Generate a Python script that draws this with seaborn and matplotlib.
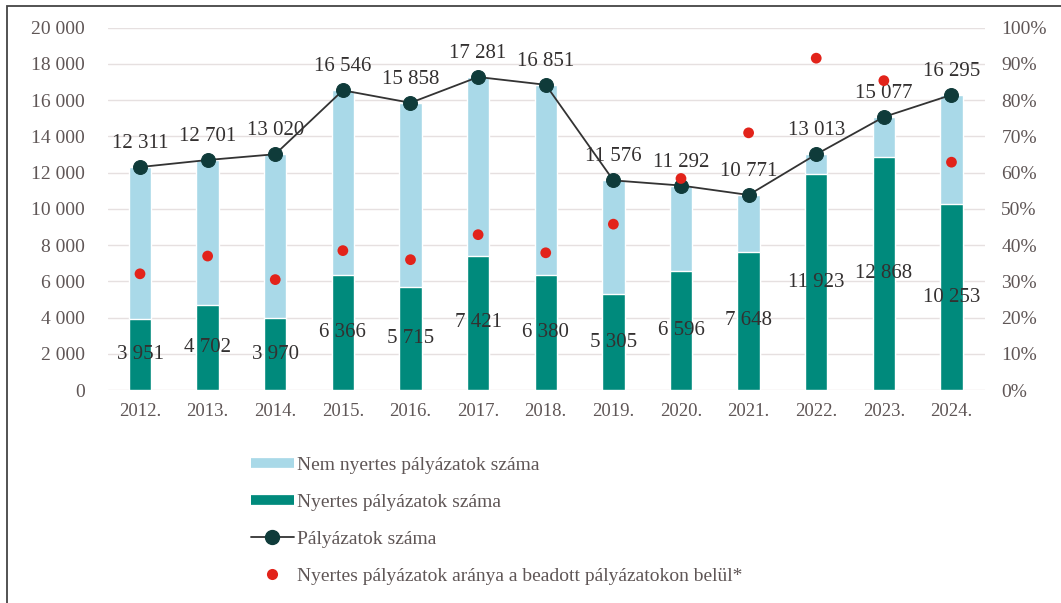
import matplotlib
matplotlib.use("Agg")
import matplotlib.pyplot as plt
import seaborn as sns
import pandas as pd
from matplotlib.lines import Line2D
from matplotlib.patches import Rectangle

years = ["2012.", "2013.", "2014.", "2015.", "2016.", "2017.", "2018.",
         "2019.", "2020.", "2021.", "2022.", "2023.", "2024."]
total = [12311, 12701, 13020, 16546, 15858, 17281, 16851,
         11576, 11292, 10771, 13013, 15077, 16295]
winners = [3951, 4702, 3970, 6366, 5715, 7421, 6380,
           5305, 6596, 7648, 11923, 12868, 10253]
ratio_pct = [32.1, 37.0, 30.5, 38.5, 36.0, 42.9, 37.9,
             45.8, 58.4, 71.0, 91.6, 85.4, 62.9]

def fmt(v):
    return f"{v:,}".replace(",", " ")

sns.set_theme(style="white")
plt.rcParams["font.family"] = ["Liberation Serif", "DejaVu Serif"]

df = pd.DataFrame({"year": years, "total": total, "winners": winners, "ratio": ratio_pct})

C_LIGHT = "#a9d9e8"
C_TEAL = "#008a7c"
C_DARK = "#0f3b3a"
C_RED = "#e2231a"
C_TICK = "#5f5656"
C_TXT = "#333030"

fig = plt.figure(figsize=(10.61, 6.03), dpi=100)
ax = fig.add_axes([0.102, 0.353, 0.826, 0.601])

sns.barplot(data=df, x="year", y="total", color=C_LIGHT, width=0.33,
            saturation=1, ax=ax, zorder=2)
sns.barplot(data=df, x="year", y="winners", color=C_TEAL, width=0.33,
            saturation=1, ax=ax, zorder=3)
sns.lineplot(x=list(range(len(years))), y=total, color="#333333", lw=1.3,
             marker="o", markersize=10, markerfacecolor=C_DARK,
             markeredgecolor=C_DARK, ax=ax, zorder=4)

ax.set_ylim(0, 20000)
ax.set_xlim(-0.47, 12.49)
ax.set_yticks(range(0, 20001, 2000))
ax.set_yticklabels([fmt(v) for v in range(0, 20001, 2000)])
ax.grid(axis="y", color="#e6e0e0", lw=1, zorder=0)
ax.set_axisbelow(True)
ax.set_xlabel("")
ax.set_ylabel("")
for s in ax.spines.values():
    s.set_visible(False)
ax.tick_params(axis="y", length=0, labelsize=14, colors=C_TICK, pad=17)
ax.tick_params(axis="x", length=0, labelsize=13.5, colors=C_TICK, pad=9)

for i, (t, w) in enumerate(zip(total, winners)):
    ax.annotate(fmt(t), (i, t), xytext=(0, 10), textcoords="offset points",
                ha="center", va="bottom", fontsize=15, color=C_TXT, zorder=6)
    ax.text(i, w / 2, fmt(w), ha="center", va="center", fontsize=15,
            color=C_TXT, zorder=6)

ax2 = ax.twinx()
sns.scatterplot(x=list(range(len(years))), y=ratio_pct, color=C_RED, s=60,
                edgecolor="none", ax=ax2, zorder=5)
ax2.set_ylim(0, 100)
ax2.set_yticks(range(0, 101, 10))
ax2.set_yticklabels([f"{v}%" for v in range(0, 101, 10)])
ax2.tick_params(axis="y", length=0, labelsize=14, colors=C_TICK, pad=12)
ax2.set_ylabel("")
for s in ax2.spines.values():
    s.set_visible(False)

handles = [
    Line2D([0], [0], color=C_LIGHT, lw=7, solid_capstyle="butt"),
    Line2D([0], [0], color=C_TEAL, lw=7, solid_capstyle="butt"),
    Line2D([0], [0], color="#333333", lw=1.3, marker="o", markersize=10,
           markerfacecolor=C_DARK, markeredgecolor=C_DARK),
    Line2D([0], [0], color=C_RED, lw=0, marker="o", markersize=8,
           markeredgecolor="none"),
]
labels = ["Nem nyertes pályázatok száma", "Nyertes pályázatok száma",
          "Pályázatok száma",
          "Nyertes pályázatok aránya a beadott pályázatokon belül*"]
fig.legend(handles, labels, loc="upper left", bbox_to_anchor=(0.229, 0.256),
           frameon=False, fontsize=14, labelspacing=1.0, handlelength=2.2,
           handletextpad=0.2, labelcolor=C_TICK, borderaxespad=0)

fig.patches.append(Rectangle((0.0066, -0.01), 1.1, 1.0, transform=fig.transFigure,
                             fill=False, edgecolor="#444444", lw=1.3))

fig.savefig("out.png", dpi=100, facecolor="white")
